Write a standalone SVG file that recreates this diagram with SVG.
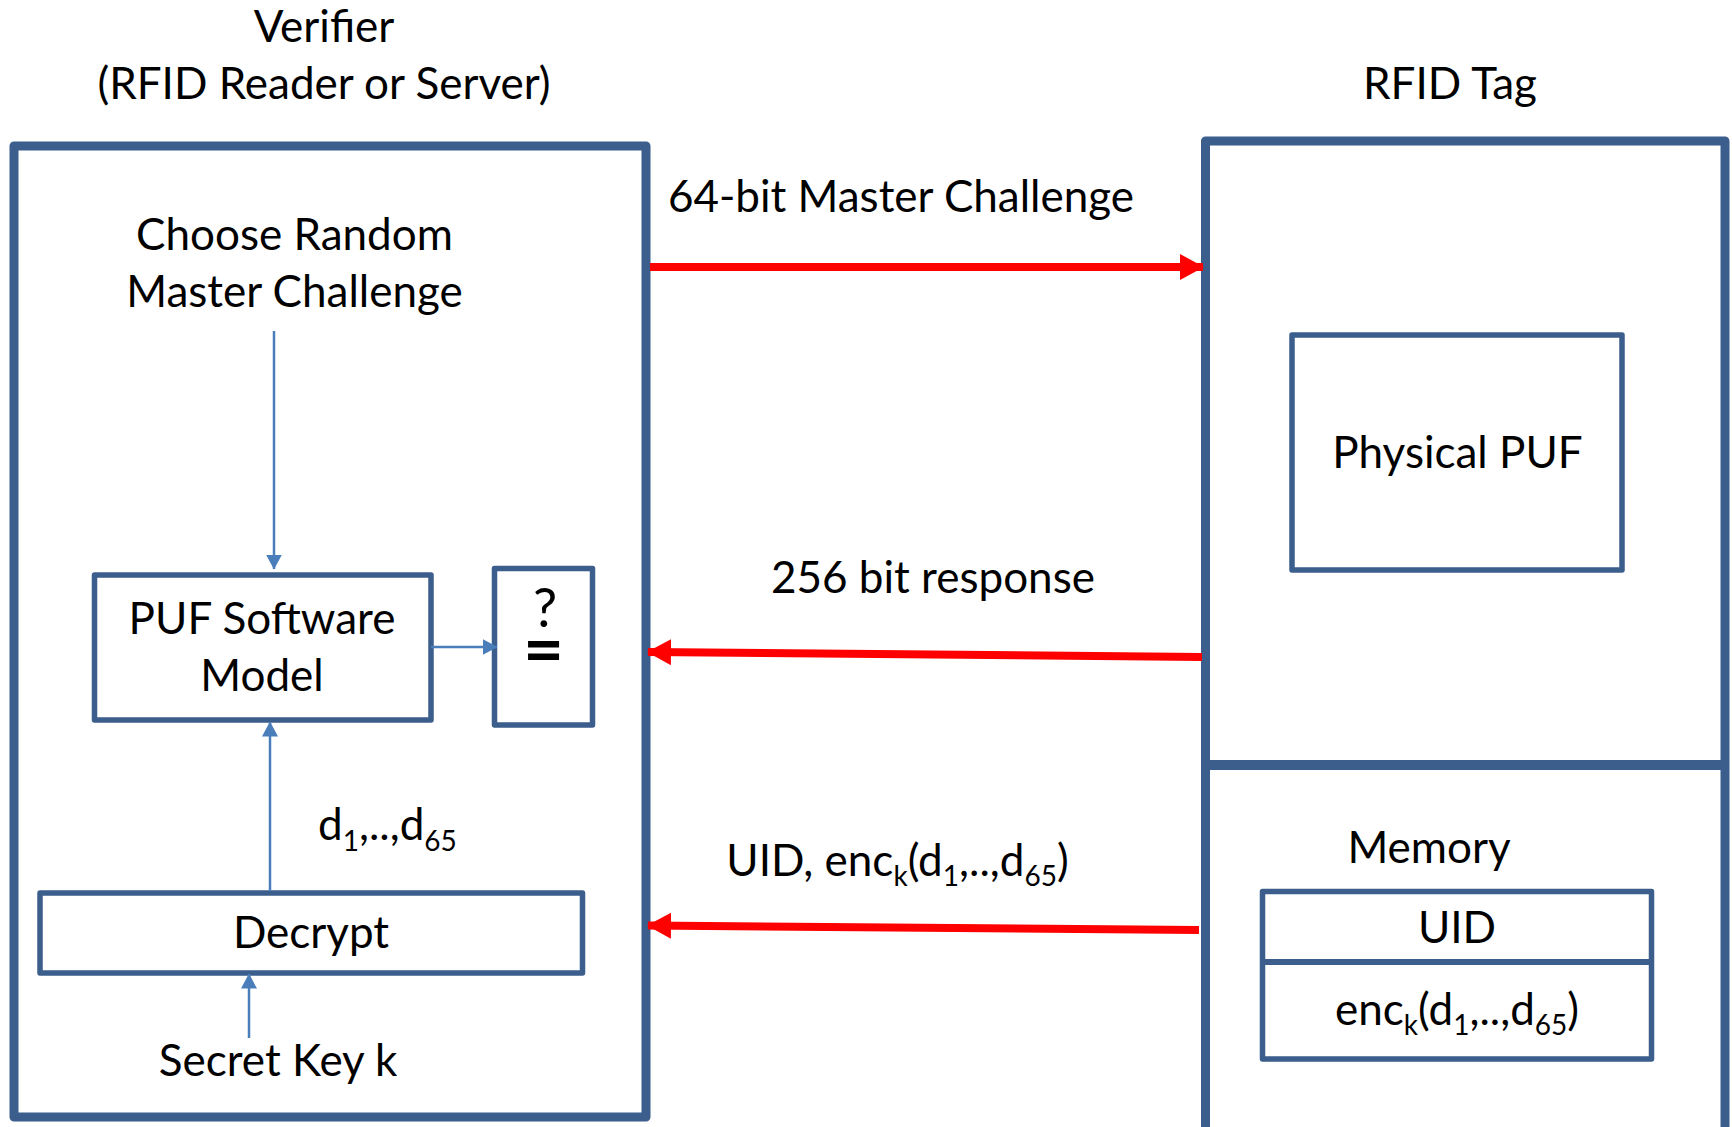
<svg xmlns="http://www.w3.org/2000/svg" width="1732" height="1127" viewBox="0 0 1732 1127">
  <defs>
    <style>
      .txt { font-family: Lato, "Open Sans", "Liberation Sans", sans-serif; font-size: 44px; fill: #000; }
      .mid { text-anchor: middle; }
      .sub { font-size: 28px; }
      .frame { fill: none; stroke: #3B5E8C; stroke-width: 9; stroke-linejoin: round; }
      .box { fill: #fff; stroke: #3B5E8C; stroke-width: 5.5; stroke-linejoin: round; }
      .msg { fill: none; stroke: #FF0000; stroke-width: 8; }
      .flow { fill: none; stroke: #4A7EBB; stroke-width: 2.5; }
    </style>
    <marker id="redHead" markerUnits="userSpaceOnUse" markerWidth="24" markerHeight="26" refX="23" refY="13" orient="auto">
      <path d="M0,0 L24,13 L0,26 Z" fill="#FF0000"/>
    </marker>
    <marker id="blueHead" markerUnits="userSpaceOnUse" markerWidth="15" markerHeight="16" refX="14.5" refY="8" orient="auto">
      <path d="M0,0 L15,8 L0,16 Z" fill="#4A7EBB"/>
    </marker>
  </defs>

  <rect width="1732" height="1127" fill="#fff"/>

  <!-- Party headings -->
  <g id="headings">
    <text class="txt mid" x="324" y="42">Verifier</text>
    <text class="txt mid" x="324" y="99">(RFID Reader or Server)</text>
    <text class="txt mid" x="1450" y="99">RFID Tag</text>
  </g>

  <!-- Verifier side -->
  <g id="verifier">
    <rect class="frame" x="14" y="146" width="632" height="971"/>
  </g>
  <g id="choose-challenge">
    <text class="txt mid" x="294.5" y="250">Choose Random</text>
    <text class="txt mid" x="294.5" y="307">Master Challenge</text>
  </g>
  <g id="puf-model">
    <rect class="box" x="94.5" y="575" width="336.5" height="145"/>
    <text class="txt mid" x="262" y="634">PUF Software</text>
    <text class="txt mid" x="262" y="691">Model</text>
  </g>
  <g id="compare">
    <rect class="box" x="494.5" y="568.5" width="98" height="156.5"/>
    <!-- question mark stacked over a bold equals sign -->
    <text class="txt mid"><tspan x="545" y="627" style="font-size:54px">?</tspan><tspan x="543.5" y="674" style="font-size:70px;font-weight:bold">=</tspan></text>
  </g>
  <g id="decrypt">
    <rect class="box" x="40" y="893" width="542.5" height="80"/>
    <text class="txt mid" x="311" y="948">Decrypt</text>
  </g>
  <g id="secret-key">
    <text class="txt mid" x="278" y="1076">Secret Key k</text>
  </g>
  <g id="decrypted-label">
    <text class="txt" x="318" y="840">d<tspan class="sub" dy="11">1</tspan><tspan dy="-11">,..,d</tspan><tspan class="sub" dy="11">65</tspan></text>
  </g>

  <!-- Tag side -->
  <g id="rfid-tag">
    <rect class="frame" x="1205.5" y="141" width="519.5" height="1010"/>
    <line x1="1205.5" y1="765" x2="1725" y2="765" stroke="#3B5E8C" stroke-width="10"/>
  </g>
  <g id="physical-puf">
    <rect class="box" x="1292" y="335" width="330" height="235"/>
    <text class="txt mid" x="1457.5" y="468">Physical PUF</text>
  </g>
  <g id="memory">
    <text class="txt mid" x="1429" y="863">Memory</text>
    <rect class="box" x="1262.5" y="891.5" width="389" height="167.5"/>
    <line x1="1262.5" y1="962" x2="1651.5" y2="962" stroke="#3B5E8C" stroke-width="6"/>
    <text class="txt mid" x="1457" y="943">UID</text>
    <text class="txt mid" x="1457" y="1025">enc<tspan class="sub" dy="10">k</tspan><tspan dy="-10">(d</tspan><tspan class="sub" dy="10">1</tspan><tspan dy="-10">,..,d</tspan><tspan class="sub" dy="10">65</tspan><tspan dy="-10">)</tspan></text>
  </g>

  <!-- Message labels -->
  <g id="message-labels">
    <text class="txt mid" x="901" y="212">64-bit Master Challenge</text>
    <text class="txt mid" x="933" y="593">256 bit response</text>
    <text class="txt mid" x="897.5" y="876">UID, enc<tspan class="sub" dy="10">k</tspan><tspan dy="-10">(d</tspan><tspan class="sub" dy="10">1</tspan><tspan dy="-10">,..,d</tspan><tspan class="sub" dy="10">65</tspan><tspan dy="-10">)</tspan></text>
  </g>

  <!-- Connectors -->
  <g id="connectors">
    <line class="msg" x1="650" y1="267" x2="1203" y2="267" marker-end="url(#redHead)"/>
    <line class="msg" x1="1202" y1="657" x2="648" y2="652" marker-end="url(#redHead)"/>
    <line class="msg" x1="1199" y1="930" x2="648" y2="925.5" marker-end="url(#redHead)"/>
    <line class="flow" x1="274" y1="331" x2="274" y2="569" marker-end="url(#blueHead)"/>
    <line class="flow" x1="431" y1="647" x2="497" y2="647" marker-end="url(#blueHead)"/>
    <line class="flow" x1="270" y1="891" x2="270" y2="722" marker-end="url(#blueHead)"/>
    <line class="flow" x1="249" y1="1038" x2="249" y2="974" marker-end="url(#blueHead)"/>
  </g>
</svg>
